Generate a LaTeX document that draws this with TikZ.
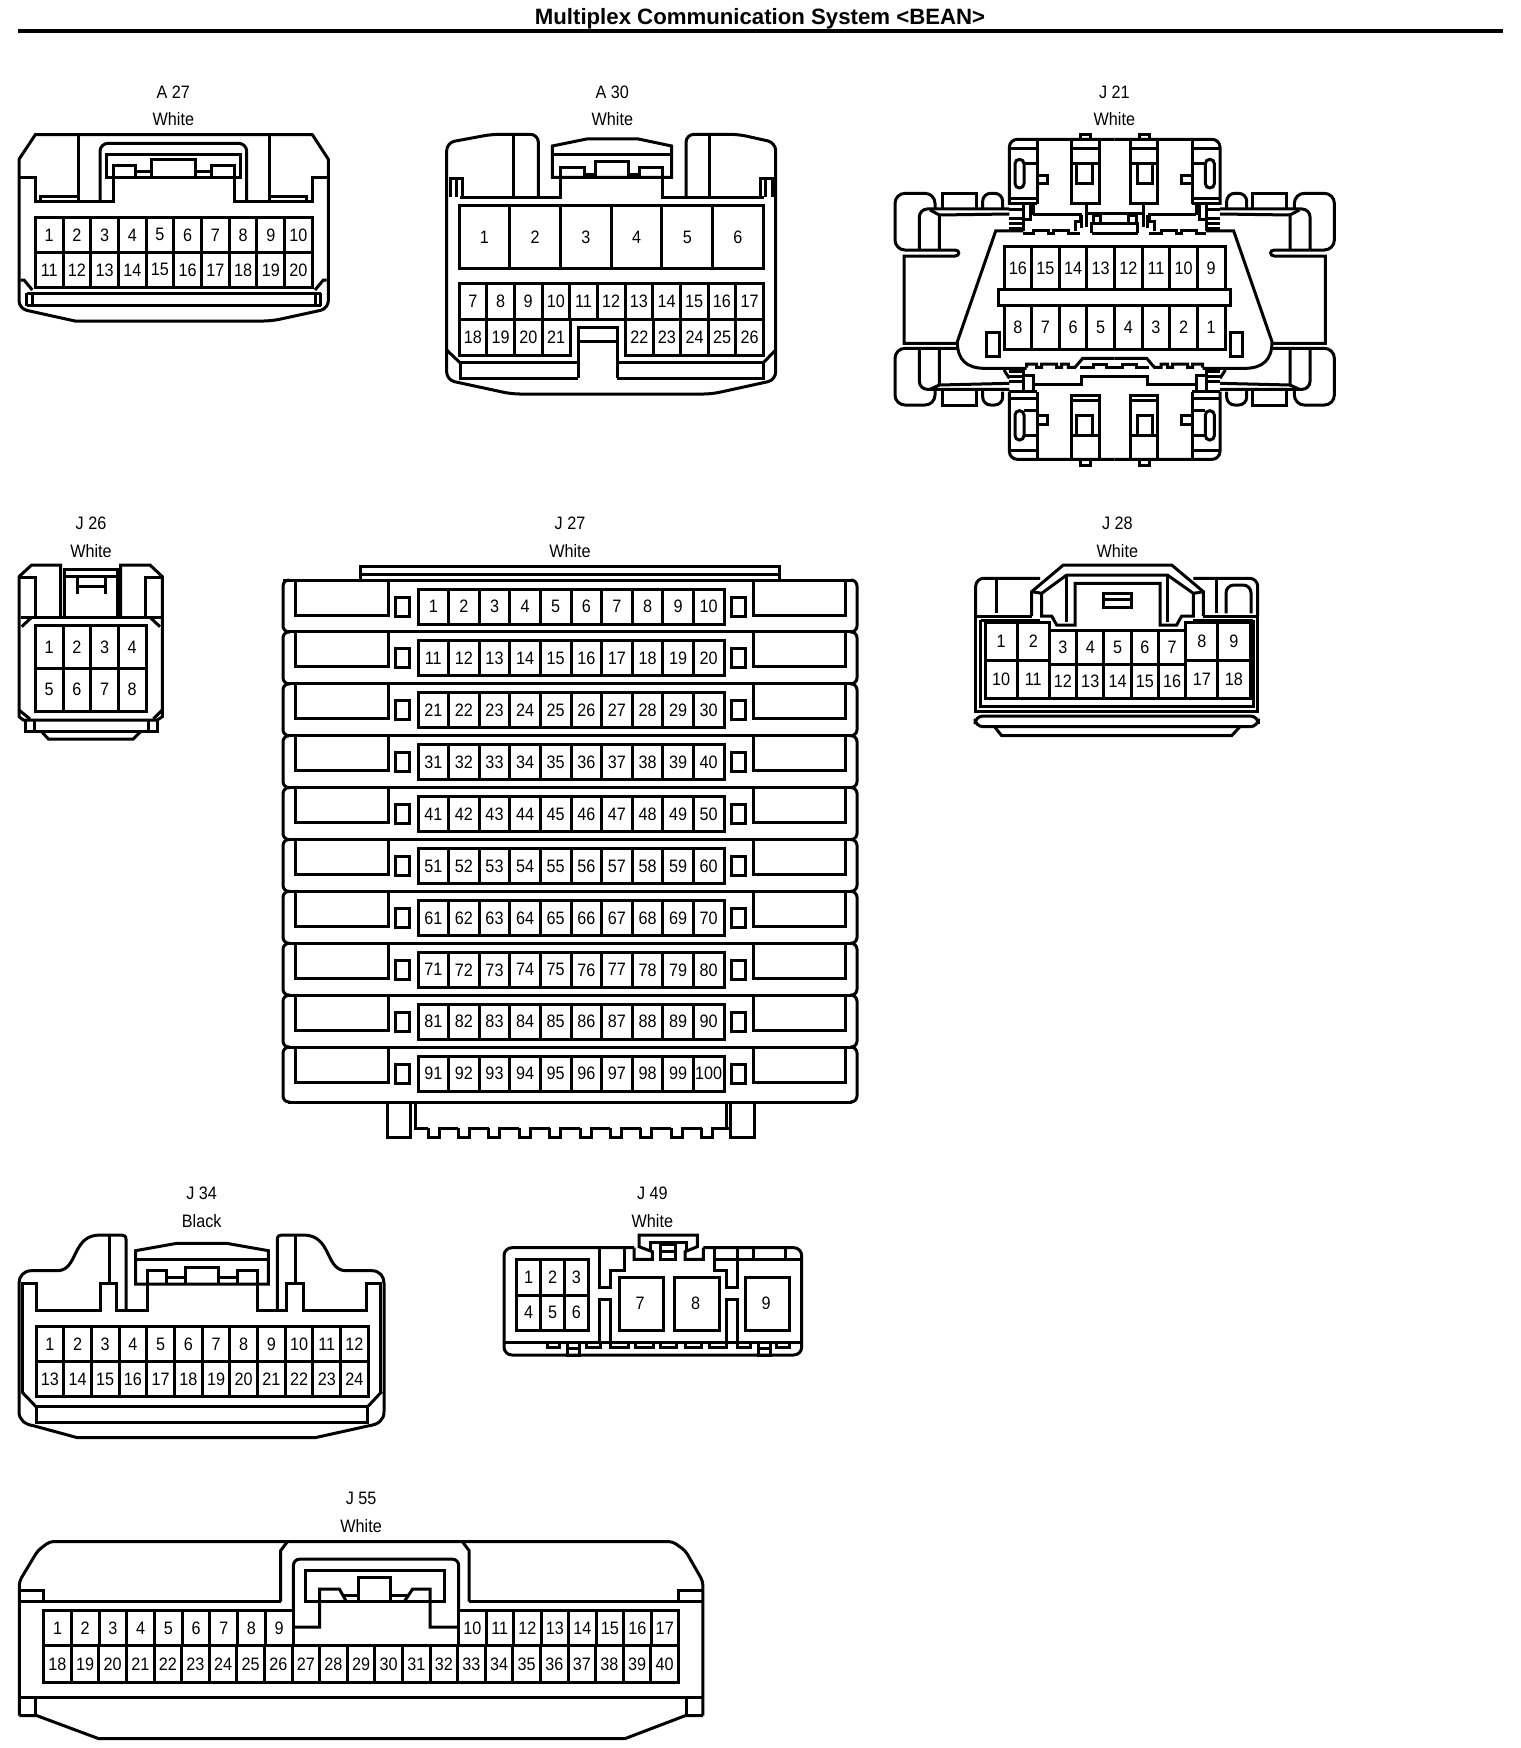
\documentclass[tikz,border=0pt]{standalone}
\usepackage{fontspec}
\setmainfont[FakeStretch=0.9]{Liberation Sans}
\newfontfamily\titlefont{Liberation Sans}
\usetikzlibrary{calc}

\tikzset{
	pinlabel/.style={inner sep=0pt,font=\fontsize{9}{9}\selectfont},
	crop/.style 2 args={shift={(#1,#2)},x=0.16667pt,y=-0.16667pt},
	flipped/.style={shift={(#1,0)},xscale=-1},
}

% one row of pins: prefix, x0, x1, ytop, ybottom, first, last
\newcommand{\pinrow}[7]{%
	\pgfmathtruncatemacro{\npins}{abs(#7-#6)+1}%
	\pgfmathtruncatemacro{\pinstep}{(#7<#6) ? -1 : 1}%
	\foreach \pinidx in {1,...,\npins}{%
		\pgfmathtruncatemacro{\pinno}{#6+(\pinidx-1)*\pinstep}%
		\pgfmathsetmacro{\xa}{#2+(#3-#2)/\npins*(\pinidx-1)}%
		\pgfmathsetmacro{\xb}{#2+(#3-#2)/\npins*\pinidx}%
		\pgfmathsetmacro{\xm}{(\xa+\xb)/2}%
		\pgfmathsetmacro{\ym}{(#4+#5)/2}%
		\draw (\xa,#4) rectangle (\xb,#5);
		\node[pinlabel] (#1-\pinno) at (\xm,\ym) {\pinno};
	}%
}

% left half of J21, drawn twice
\newcommand{\jhalf}{%
	% top block
	\draw[rounded corners=4pt] (704,208)--(388,208)--(388,405);
	\draw (472,208)--(472,402);
	\draw (388,235)--(472,235);
	\draw (432,282)--(472,282);
	\draw (388,385)--(472,385);
	\draw (388,402)--(472,402);
	\draw[rounded corners=2.2pt] (405,268) rectangle (432,354);
	\draw (472,316)--(503,316)--(503,340)--(472,340);
	\draw (575,208)--(575,402)--(658,402)--(658,208);
	\draw (575,235)--(658,235);
	\draw (575,282)--(658,282);
	\draw (590,285)--(590,340)--(637,340)--(637,285);
	\draw (600,208)--(600,193)--(630,193)--(630,208);
	% latch and clips below the top block
	\draw (618,402)--(618,470);
	\draw (622,432)--(704,432);
	\draw (640,432)--(640,462);
	\draw (640,438)--(662,438)--(662,462);
	\draw (635,490)--(635,462)--(704,462);
	\draw (460,435)--(600,435)--(600,455)--(585,455)--(585,482);
	\draw (605,435)--(605,475);
	\draw (388,418)--(430,418);
	\draw (388,445)--(430,445);
	\draw (388,460)--(430,460);
	\draw (388,475)--(430,475);
	\draw (430,405)--(430,483);
	\draw (450,405)--(450,450)--(430,450);
	\draw (460,405)--(460,435);
	% body
	\draw (704,490)--(635,490);
	\draw (430,483)--(347,483)--(232,815) .. controls (232,870) and (260,895) .. (315,895)--(440,895);
	\draw (430,490)--(460,490)--(460,482)--(505,482)--(505,490)--(520,490)--(520,482)--(565,482)--(565,490)--(600,490);
	\draw (440,893)--(440,882)--(470,882)--(470,892)--(485,892)--(485,882)--(530,882)--(530,892)--(545,892)--(545,882)--(565,882)--(565,892)--(585,892)--(608,865)--(704,865);
	\draw (600,892)--(640,892)--(640,882)--(680,882)--(680,892)--(704,892);
	\draw (320,788) rectangle (358,860);
	% upper side piece
	\draw[rounded corners=5pt] (165,415)--(165,370)--(45,370)--(45,540)--(120,540);
	\draw (120,540)--(225,540) .. controls (240,540) and (240,558) .. (225,558)--(72,558)--(72,820)--(232,820);
	\draw (188,415)--(188,370)--(290,370)--(290,415);
	\draw[rounded corners=4pt] (308,415)--(308,370)--(368,370)--(368,420);
	\draw[rounded corners=4pt] (118,540)--(118,417)--(388,417);
	\draw (150,420)--(178,435)--(178,540);
	\draw (178,435)--(388,432);
	% lower side piece
	\draw[rounded corners=5pt] (232,835)--(45,835)--(45,1005)--(165,1005)--(165,960);
	\draw (188,960)--(188,1005)--(290,1005)--(290,960);
	\draw[rounded corners=4pt] (308,960)--(308,1005)--(368,1005)--(368,965);
	\draw[rounded corners=4pt] (118,838)--(118,958)--(388,958);
	\draw (178,838)--(178,945)--(388,940);
	\draw (150,958)--(178,945);
	\draw (372,900)--(388,925);
	\draw (388,905)--(430,905);
	\draw (388,920)--(430,920);
	\draw (388,935)--(430,935);
	\draw (430,897)--(430,965);
	\draw (430,915)--(460,915)--(460,965);
	\draw (460,942)--(605,942)--(605,918)--(704,918);
	% bottom block
	\draw[rounded corners=4pt] (704,1168)--(388,1168)--(388,965);
	\draw (388,965)--(472,965);
	\draw (472,965)--(472,1168);
	\draw (388,985)--(472,985);
	\draw (388,1140)--(472,1140);
	\draw (432,1022)--(472,1022);
	\draw (432,1095)--(472,1095);
	\draw[rounded corners=2.2pt] (405,1022) rectangle (432,1110);
	\draw (472,1037)--(503,1037)--(503,1062)--(472,1062);
	\draw (575,1168)--(575,975)--(658,975)--(658,1168);
	\draw (575,990)--(658,990);
	\draw (575,1095)--(658,1095);
	\draw (590,1095)--(590,1035)--(637,1035)--(637,1095);
	\draw (600,1168)--(600,1185)--(630,1185)--(630,1168);
}

\begin{document}
\begin{tikzpicture}[x=0.5pt,y=-0.5pt,line width=1.5pt,every node/.style={font=\fontsize{9}{9}\selectfont}]
	\fill[white] (0,0) rectangle (1520,1748);
	\useasboundingbox (0,0) rectangle (1520,1748);

	\node[font=\titlefont\bfseries\fontsize{11.1}{11.1}\selectfont] (title) at (760,19) {Multiplex Communication System <BEAN>};
	\coordinate (ruleL) at (18,31);
	\coordinate (ruleR) at (1503,31);
	\draw[line width=2pt] (ruleL)--(ruleR);

	% A 27
	\begin{scope}[crop={0}{60}]
	\node (a27name) at (520,97) {A 27};
	\node (a27color) at (520,178) {White};
	\draw (57,298)--(106,224)--(937,224)--(985,298) [rounded corners=4pt]--(985,746)--(815,783) [sharp corners]--(225,783) [rounded corners=4pt]--(57,746) [sharp corners]--(57,298)--cycle;
	\draw (57,352)--(106,352)--(106,425)--(340,425)--(340,317)--(407,317)--(407,352);
	\draw (985,352)--(937,352)--(937,425)--(703,425)--(703,317)--(634,317)--(634,352);
	\draw (318,283) rectangle (722,352);
	\draw (455,352)--(455,300)--(587,300)--(587,352);
	\draw (407,336)--(455,336);
	\draw (587,336)--(634,336);
	\draw[rounded corners=4pt] (300,425)--(300,250)--(740,250)--(740,425);
	\draw (234,224)--(234,425);
	\draw (808,224)--(808,425);
	\draw (122,425)--(122,410)--(234,410);
	\draw (808,410)--(918,410)--(918,425);
	\pinrow{a27}{106}{937}{472}{577}{1}{10}
	\pinrow{a27}{106}{937}{577}{682}{11}{20}
	\draw (80,700)--(962,700);
	\draw (80,737)--(962,737);
	\draw (80,700)--(80,737);
	\draw (97,700)--(97,737);
	\draw (945,700)--(945,737);
	\draw (962,700)--(962,737);
	\draw (62,660)--(72,660)--(97,690);
	\draw (980,660)--(970,660)--(945,690);
	\end{scope}

	% A 30
	\begin{scope}[crop={430}{70}]
	\node (a30name) at (547,66) {A 30};
	\node (a30color) at (547,148) {White};
	\draw[rounded corners=4pt] (325,382)--(325,193)--(185,193)--(50,218)--(50,930)--(245,972)--(845,972)--(1037,930)--(1037,218)--(925,193)--(768,193)--(768,382);
	\draw (90,382)--(390,382)--(390,322);
	\draw (697,322)--(697,382)--(1003,382);
	\draw (367,322)--(367,228)--(470,207)--(625,207)--(725,228)--(725,322)--cycle;
	\draw (367,255)--(725,255);
	\draw (390,322)--(390,292)--(462,292)--(462,322);
	\draw (497,322)--(497,275)--(595,275)--(595,322);
	\draw (462,313)--(497,313);
	\draw (595,313)--(628,313);
	\draw (628,322)--(628,292)--(697,292)--(697,322);
	\draw (250,193)--(250,382);
	\draw (838,193)--(838,382);
	\draw (62,382)--(62,325)--(97,325)--(97,382);
	\draw (80,325)--(80,382);
	\draw (990,382)--(990,325)--(1027,325)--(1027,382);
	\draw (1005,325)--(1005,382);
	\pinrow{a30}{87}{1000}{407}{595}{1}{6}
	\pinrow{a30}{87}{1000}{640}{747}{7}{17}
	\pinrow{a30}{87}{420}{747}{855}{18}{21}
	\pinrow{a30}{587}{1000}{747}{855}{22}{26}
	\draw (445,925)--(445,772)--(562,772)--(562,925);
	\draw (445,815)--(562,815);
	\draw (90,878)--(445,878);
	\draw (562,878)--(1000,878);
	\draw (90,878)--(90,925)--(445,925);
	\draw (1000,878)--(1000,925)--(562,925);
	\draw (50,840)--(90,878);
	\draw (1037,840)--(1000,878);
	\end{scope}

	% J 21
	\begin{scope}[crop={880}{70}]
	\node (j21name) at (703,68) {J 21};
	\node (j21color) at (703,148) {White};
	\jhalf
	\begin{scope}[flipped=1408]
	\jhalf
	\end{scope}
	\pinrow{j21}{372}{1035}{530}{658}{16}{9}
	\pinrow{j21}{372}{1035}{707}{837}{8}{1}
	\draw[fill=white] (355,658) rectangle (1052,707);
	\end{scope}

	% J 26
	\begin{scope}[crop={0}{500}]
	\node (j26name) at (273,70) {J 26};
	\node (j26color) at (273,153) {White};
	\draw (182,350)--(182,195)--(95,195)--(57,230)--(57,650)--(70,660)--(472,660)--(487,650)--(487,230)--(450,195)--(362,195)--(362,350);
	\draw (62,352)--(482,352);
	\draw (57,232)--(107,232)--(107,352);
	\draw (487,232)--(435,232)--(435,352);
	\draw (192,350)--(192,207)--(352,207)--(352,350);
	\draw (192,228)--(352,228);
	\draw (232,235)--(232,282);
	\draw (315,235)--(315,282);
	\draw (232,258)--(315,258);
	\draw (65,380)--(95,352);
	\draw (480,380)--(450,352);
	\draw (57,630)--(90,657);
	\draw (487,630)--(460,657);
	\pinrow{j26}{106}{438}{377}{505}{1}{4}
	\pinrow{j26}{106}{438}{505}{633}{5}{8}
	\draw (75,660)--(75,695)--(472,695)--(472,660);
	\draw (103,660)--(103,695);
	\draw (445,660)--(445,695);
	\draw (125,695)--(145,717)--(400,717)--(422,695);
	\end{scope}

	% J 27
	\node (j27name) at (570,523) {J 27};
	\node (j27color) at (570,551) {White};
	\draw (283,580)--(360,580)--(360,566)--(779,566)--(779,580);
	\draw (360,574)--(779,574);
	\foreach \row in {0,...,9}{
		\pgfmathsetmacro{\sep}{580+51.9*\row}
		\pgfmathsetmacro{\rowend}{\row==9 ? 1102 : \sep+51.9}
		\pgfmathtruncatemacro{\firstpin}{\row*10+1}
		\pgfmathtruncatemacro{\lastpin}{\row*10+10}
		\draw (288,\sep)--(852,\sep);
		\draw[rounded corners=3pt] (288,\sep)--(283,\sep)--(283,\rowend)--(290,\rowend);
		\draw[rounded corners=3pt] (852,\sep)--(857,\sep)--(857,\rowend)--(850,\rowend);
		\draw (295,\sep)--(295,\sep+35)--(388,\sep+35)--(388,\sep);
		\draw (845,\sep)--(845,\sep+35)--(753,\sep+35)--(753,\sep);
		\draw (395,\sep+17) rectangle (409,\sep+36);
		\draw (731,\sep+17) rectangle (745,\sep+36);
		\pgfmathsetmacro{\pintop}{\sep+9}
		\pgfmathsetmacro{\pinbot}{\sep+44}
		\pinrow{j27}{418}{724}{\pintop}{\pinbot}{\firstpin}{\lastpin}
	}
	\draw (288,1102)--(852,1102);
	\draw (387,1102)--(387,1137)--(410,1137)--(410,1102);
	\draw (730,1102)--(730,1137)--(754,1137)--(754,1102);
	\draw (415,1102)--(415,1128)--(428,1128);
	\foreach \tooth in {0,...,9}{
		\pgfmathsetmacro{\tx}{428+30.4*\tooth}
		\draw (\tx,1128)--(\tx,1137)--(\tx+11,1137)--(\tx+11,1128)--(\tx+30.4,1128);
	}
	\draw (726,1102)--(726,1128);

	% J 28
	\begin{scope}[crop={960}{510}]
	\node (j28name) at (472,40) {J 28};
	\node (j28color) at (472,122) {White};
	\draw[rounded corners=4pt] (240,205)--(47,205)--(47,318);
	\draw[rounded corners=4pt] (700,205)--(893,205)--(893,318);
	\draw (47,318)--(47,605)--(893,605)--(893,318);
	\draw (47,318)--(215,318);
	\draw (730,318)--(893,318);
	\draw (62,330)--(62,590)--(880,590)--(880,330);
	\draw (62,330)--(240,330);
	\draw (700,330)--(880,330);
	\draw (215,318)--(215,245)--(310,165)--(635,165)--(730,245)--(730,318);
	\draw (215,245)--(245,250)--(320,195)--(622,195)--(700,250)--(730,245);
	\draw (245,250)--(245,318)--(275,318)--(290,345)--(345,345)--(345,220)--(600,220)--(600,345)--(650,345)--(665,318)--(700,318)--(700,250);
	\draw (320,195)--(320,335);
	\draw (622,195)--(622,335);
	\draw (430,250)--(430,292)--(513,292)--(513,250)--cycle;
	\draw (430,268)--(513,268);
	\draw (108,208)--(108,310);
	\draw (770,208)--(770,310);
	\draw[rounded corners=4pt] (798,310)--(798,225)--(873,225)--(873,310);
	\pinrow{j28}{75}{268}{338}{452}{1}{2}
	\pinrow{j28}{75}{268}{452}{565}{10}{11}
	\pinrow{j28}{268}{677}{360}{462}{3}{7}
	\pinrow{j28}{268}{677}{462}{565}{12}{16}
	\pinrow{j28}{677}{870}{338}{452}{8}{9}
	\pinrow{j28}{677}{870}{452}{565}{17}{18}
	\draw[rounded corners=4pt] (45,618) rectangle (895,650);
	\draw (105,652)--(125,677)--(815,677)--(838,652);
	\end{scope}

	% J 34
	\begin{scope}[crop={0}{1180}]
	\node (j34name) at (605,40) {J 34};
	\node (j34color) at (605,122) {Black};
	\draw (378,390)--(378,178) .. controls (378,168) and (372,165) .. (365,165)--(300,165) .. controls (215,165) and (235,268) .. (175,272)--(95,272) .. controls (70,272) and (57,290) .. (57,310)--(57,695) .. controls (57,720) and (75,733) .. (100,737)--(232,773)--(945,773)--(1108,737) .. controls (1135,733) and (1152,720) .. (1152,695)--(1152,310) .. controls (1152,290) and (1140,272) .. (1115,272)--(1035,272) .. controls (975,268) and (995,165) .. (910,165)--(845,165) .. controls (838,165) and (832,168) .. (832,178)--(832,390);
	\draw (68,640)--(68,310)--(108,310)--(108,390)--(300,390)--(300,310)--(350,310)--(350,390)--(443,390)--(443,312);
	\draw (1142,640)--(1142,310)--(1100,310)--(1100,390)--(910,390)--(910,310)--(860,310)--(860,390)--(772,390)--(772,312);
	\draw (327,165)--(327,310);
	\draw (885,165)--(885,310);
	\draw (407,312)--(407,212)--(530,190)--(680,190)--(805,212)--(805,312)--cycle;
	\draw (407,238)--(805,238);
	\draw (443,312)--(443,272)--(500,272)--(500,312);
	\draw (557,312)--(557,262)--(655,262)--(655,312);
	\draw (712,312)--(712,272)--(772,272)--(772,312);
	\draw (500,293)--(557,293);
	\draw (655,293)--(712,293);
	\pinrow{j34}{108}{1105}{440}{545}{1}{12}
	\pinrow{j34}{108}{1105}{545}{650}{13}{24}
	\draw (108,680) rectangle (1103,727);
	\draw (65,635)--(108,680);
	\draw (1145,635)--(1103,680);
	\end{scope}

	% J 49
	\begin{scope}[crop={490}{1180}]
	\node (j49name) at (487,40) {J 49};
	\node (j49color) at (487,122) {White};
	\draw[rounded corners=4pt] (432,203)--(42,203)--(42,525)--(935,525)--(935,203)--(640,203);
	\draw (432,203)--(432,238)--(487,238)--(487,215)--(447,200)--(447,165)--(622,165)--(622,200)--(585,215)--(585,238)--(640,238)--(640,203);
	\draw (480,215)--(480,188)--(590,188)--(590,215);
	\draw (512,192) rectangle (557,238);
	\draw (512,215)--(557,215);
	\draw (328,205)--(328,322)--(362,322)--(362,270)--(403,270)--(403,205);
	\draw (672,205)--(672,270)--(708,270)--(708,322)--(742,322)--(742,238);
	\draw (672,238)--(935,238);
	\draw (742,205)--(742,238);
	\draw (790,205)--(790,238);
	\draw (885,205)--(885,238);
	\pinrow{j49}{80}{295}{238}{345}{1}{3}
	\pinrow{j49}{80}{295}{345}{450}{4}{6}
	\draw (388,292) rectangle (520,450);
	\draw (552,292) rectangle (687,450);
	\draw (765,292) rectangle (897,450);
	\node[pinlabel] (j49-7) at (450,370) {7};
	\node[pinlabel] (j49-8) at (617,370) {8};
	\node[pinlabel] (j49-9) at (828,370) {9};
	\draw (328,487)--(328,357)--(362,357)--(362,487);
	\draw (708,487)--(708,357)--(742,357)--(742,487);
	\draw (42,487)--(935,487);
	\foreach \ta/\tb in {172/207,290/330,362/415,437/490,510/560,585/635,657/708,742/780,860/898}{
		\draw (\ta,487)--(\ta,503)--(\tb,503)--(\tb,487);
	}
	\draw (232,487) rectangle (268,525);
	\draw (232,505)--(268,505);
	\draw (805,487) rectangle (840,525);
	\draw (805,505)--(840,505);
	\end{scope}

	% J 55
	\begin{scope}[shift={(0,1481)},x=0.23pt,y=-0.17pt]
	\node (j55name) at (785,52) {J 55};
	\node (j55color) at (785,132) {White};
	\draw[rounded corners=2pt] (42,690)--(42,295)--(82,205)--(108,178)--(1462,178)--(1490,205)--(1528,295)--(1528,690);
	\draw (42,690)--(80,690)--(215,758)--(1358,758)--(1490,690)--(1528,690);
	\draw (42,322)--(95,322)--(95,355);
	\draw (1528,322)--(1475,322)--(1475,355);
	\draw (42,355)--(610,355);
	\draw (1020,355)--(1528,355);
	\draw (610,355)--(610,205)--(625,178);
	\draw (1020,355)--(1020,205)--(1005,178);
	\draw[rounded corners=3pt] (638,380)--(638,230)--(997,230)--(997,380);
	\draw (665,262) rectangle (967,355);
	\draw (780,355)--(780,285)--(850,285)--(850,355);
	\draw (638,430)--(695,430)--(695,318)--(738,318)--(752,352);
	\draw (745,338)--(780,338);
	\draw (850,338)--(885,338);
	\draw (880,352)--(897,318)--(935,318)--(935,430)--(997,430);
	\pinrow{j55}{95}{637}{380}{485}{1}{9}
	\pinrow{j55}{997}{1475}{380}{485}{10}{17}
	\pinrow{j55}{95}{1475}{485}{592}{18}{40}
	\draw (42,638)--(1528,638);
	\draw (78,638)--(78,690);
	\draw (1492,638)--(1492,690);
	\end{scope}
\end{tikzpicture}
\end{document}
